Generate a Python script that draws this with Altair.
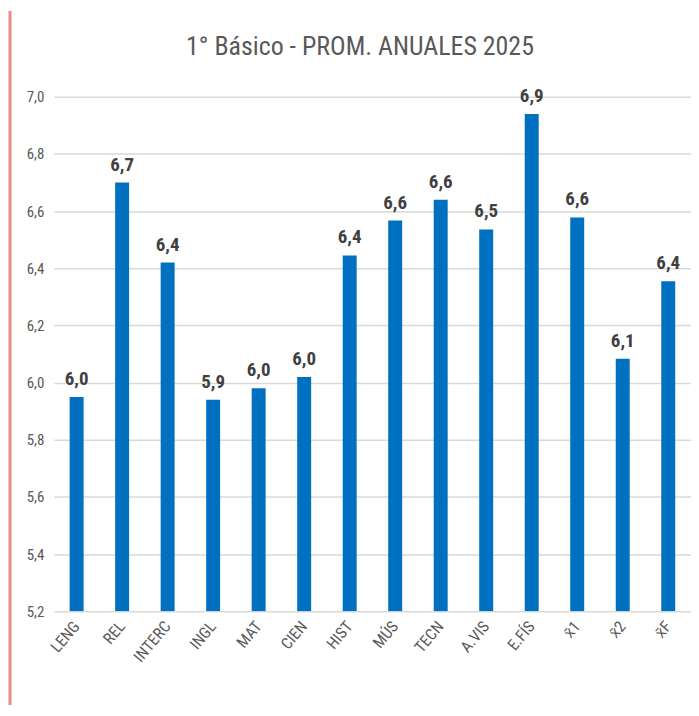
import altair as alt
import pandas as pd

TITLE = "1° Básico - PROM. ANUALES 2025"
subjects = ["LENG", "REL", "INTERC", "INGL", "MAT", "CIEN", "HIST", "MÚS", "TECN", "A.VIS", "E.FÍS", "x̄1", "x̄2", "x̄F"]
values = [5.95, 6.70, 6.42, 5.94, 5.98, 6.02, 6.445, 6.567, 6.64, 6.536, 6.94, 6.578, 6.083, 6.355]
labels = ["6,0", "6,7", "6,4", "5,9", "6,0", "6,0", "6,4", "6,6", "6,6", "6,5", "6,9", "6,6", "6,1", "6,4"]
y_ticks = [5.2, 5.4, 5.6, 5.8, 6.0, 6.2, 6.4, 6.6, 6.8, 7.0]

df = pd.DataFrame({"subj": subjects, "val": values, "lab": labels})
title_df = pd.DataFrame({"t": [TITLE]})

FONT = "Roboto Condensed, Liberation Sans Narrow, Arial Narrow, Liberation Sans, sans-serif"

x_enc = alt.X("subj:N", sort=subjects, title=None,
              axis=alt.Axis(labelAngle=-50, labelAlign="right", labelBaseline="middle",
                            labelFontSize=16, labelColor="#595959",
                            labelFont=FONT, ticks=False, domain=False, labelPadding=12))
y_scale = alt.Scale(domain=[5.2, 7.0], zero=False, nice=False, clamp=True)

base = alt.Chart(df)

bars = base.mark_bar(size=14, color="#0070C0", clip=True).encode(
    x=x_enc,
    y=alt.Y("val:Q", scale=y_scale, title=None,
            axis=alt.Axis(values=y_ticks, labelExpr="replace(format(datum.value, '.1f'), '.', ',')",
                          labelFontSize=15, labelColor="#595959", labelFont=FONT,
                          ticks=False, domain=False, labelPadding=10,
                          grid=True, gridColor="#d9d9d9", gridWidth=1.5)),
    y2=alt.datum(5.2),
)

text = base.mark_text(baseline="bottom", dy=-8, fontSize=19, fontWeight="bold",
                      color="#404040", font=FONT).encode(
    x=alt.X("subj:N", sort=subjects),
    y=alt.Y("val:Q", scale=y_scale),
    text="lab:N",
)

title_mark = alt.Chart(title_df).mark_text(fontSize=26, font=FONT, color="#595959",
                                            baseline="middle", align="center").encode(
    x=alt.value(307), y=alt.value(-50), text="t:N"
)

frame_left = alt.Chart(title_df).mark_rule(color="#e88a8a", strokeWidth=3).encode(
    x=alt.value(-44), y=alt.value(-86), y2=alt.value(610)
)

chart = alt.layer(bars, text, title_mark, frame_left).properties(
    width=639, height=516,
    padding={"left": 0, "top": 0, "right": 0, "bottom": 0},
    background="white",
).configure_view(stroke=None)

chart.save("out.html", embed_options={"renderer": "svg", "actions": False})
